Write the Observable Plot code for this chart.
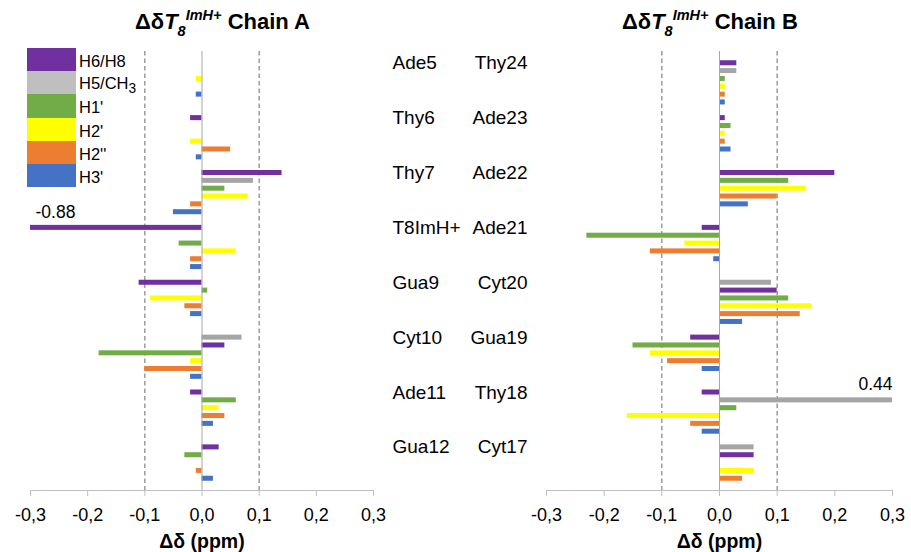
<!DOCTYPE html>
<html>
<head>
<meta charset="utf-8">
<script src="https://cdn.jsdelivr.net/npm/d3@7"></script>
<script src="https://cdn.jsdelivr.net/npm/@observablehq/plot@0.6"></script>
<style>
  body { margin: 0; background: #fff; font-family: "Liberation Sans", Arial, sans-serif; }
  #wrap { position: relative; width: 911px; height: 552px; overflow: hidden; background: #fff; }
  .plot { position: absolute; top: 0; }
  .title { position: absolute; top: 11px; font-size: 22px; font-weight: bold; line-height: 22px; white-space: nowrap; color: #000; }
  .title .it { font-style: italic; }
  .title .sub { position: relative; top: 7px; font-size: 14.5px; font-style: italic; }
  .title .sup { position: relative; top: -9.5px; font-size: 14.5px; font-style: italic; }
  #legend { position: absolute; left: 27px; top: 48px; }
  .lg-row { display: flex; align-items: center; height: 23.2px; }
  .lg-box { width: 49px; height: 23.2px; }
  .lg-label { font-size: 16.5px; margin-left: 3px; margin-top: 4px; color: #000; }
</style>
</head>
<body>
<div id="wrap"></div>
<script>
// ---------- data ----------
const series = ["H6/H8", "H5/CH3", "H1'", "H2'", "H2''", "H3'"];
const seriesLabels = ["H6/H8", "H5/CH<sub>3</sub>", "H1'", "H2'", "H2''", "H3'"];
const barColors = ["#7030A0", "#A5A5A5", "#70AD47", "#FFFF00", "#ED7D31", "#4472C4"];
const legendColors = ["#7030A0", "#BFBFBF", "#70AD47", "#FFFF00", "#ED7D31", "#4472C4"];

// row order of the protons within one residue (purine / thymine / cytosine)
const orderPurine = ["H6/H8", "H1'", "H2'", "H2''", "H3'"];
const orderThy = ["H6/H8", "H5/CH3", "H1'", "H2'", "H2''", "H3'"];
const orderCyt = ["H5/CH3", "H6/H8", "H1'", "H2'", "H2''", "H3'"];

const residuesA = ["Ade5", "Thy6", "Thy7", "T8ImH+", "Gua9", "Cyt10", "Ade11", "Gua12"];
const residuesB = ["Thy24", "Ade23", "Ade22", "Ade21", "Cyt20", "Gua19", "Thy18", "Cyt17"];
const typesA = ["R", "T", "T", "T", "R", "C", "R", "R"];
const typesB = ["T", "R", "R", "R", "C", "R", "T", "C"];

// chain A (ppm)
const A_H6H8 = [0, -0.02, 0.14, -0.88, -0.11, 0.04, -0.02, 0.03];
const A_H5CH3 = [null, 0, 0.09, 0, null, 0.07, null, null];
const A_H1p = [0, 0, 0.04, -0.04, 0.01, -0.18, 0.06, -0.03];
const A_H2p = [-0.01, -0.02, 0.08, 0.06, -0.09, -0.02, 0.03, 0];
const A_H2pp = [0, 0.05, -0.02, -0.02, -0.03, -0.10, 0.04, -0.01];
const A_H3p = [-0.01, -0.01, -0.05, -0.02, -0.02, -0.02, 0.02, 0.02];

// chain B (ppm)
const B_H6H8 = [0.03, 0.01, 0.20, -0.03, 0.10, -0.05, -0.03, 0.06];
const B_H5CH3 = [0.03, null, null, null, 0.09, null, 0.44, 0.06];
const B_H1p = [0.01, 0.02, 0.12, -0.23, 0.12, -0.15, 0.03, 0];
const B_H2p = [0.01, 0.01, 0.15, -0.06, 0.16, -0.12, -0.16, 0.06];
const B_H2pp = [0.01, 0.01, 0.10, -0.12, 0.14, -0.09, -0.05, 0.04];
const B_H3p = [0.01, 0.02, 0.05, -0.01, 0.04, -0.03, -0.03, 0];

const xTicks = [-0.3, -0.2, -0.1, 0.0, 0.1, 0.2, 0.3];
const xDomain = [-0.3, 0.3];
const guides = [-0.1, 0.1];
const axisTitle = "Δδ (ppm)";

// ---------- build tables ----------
const orders = {R: orderPurine, T: orderThy, C: orderCyt};
const slotsPerGroup = 7; // one blank slot + up to six protons
const yDomain = [];
for (let g = 0; g < residuesA.length; g++) for (let s = 0; s < slotsPerGroup; s++) yDomain.push(g + ":" + s);

function buildRows(types, cols) {
  const vals = {"H6/H8": cols[0], "H5/CH3": cols[1], "H1'": cols[2], "H2'": cols[3], "H2''": cols[4], "H3'": cols[5]};
  const rows = [];
  types.forEach((t, g) => {
    orders[t].forEach((s, r) => {
      const v = vals[s][g];
      if (v !== null && v !== undefined) rows.push({key: g + ":" + (r + 1), series: s, value: v});
    });
  });
  return rows;
}
const rowsA = buildRows(typesA, [A_H6H8, A_H5CH3, A_H1p, A_H2p, A_H2pp, A_H3p]);
const rowsB = buildRows(typesB, [B_H6H8, B_H5CH3, B_H1p, B_H2p, B_H2pp, B_H3p]);

const fmt = d => d.toFixed(1).replace(".", ",").replace(/^-0,0$/, "0,0");
const clampX = v => Math.max(xDomain[0], Math.min(xDomain[1], v));

function chart(rows, {width, marginLeft, marginRight, extra = []}) {
  const lowOut = rows.filter(d => d.value < xDomain[0]);
  const highOut = rows.filter(d => d.value > xDomain[1]);
  const p = Plot.plot({
    width, height: 552,
    marginLeft, marginRight, marginTop: 51, marginBottom: 62,
    x: {domain: xDomain},
    y: {domain: yDomain, paddingInner: 0.36, paddingOuter: 0.18, axis: null},
    color: {domain: series, range: barColors},
    style: {fontFamily: "'Liberation Sans', Arial, sans-serif", fontSize: "18px", color: "#000", background: "transparent", overflow: "visible"},
    marks: [
      Plot.ruleX(guides, {stroke: "#8C8C8C", strokeWidth: 1.3, strokeDasharray: "4.5,3"}),
      Plot.barX(rows, {x: "value", y: "key", fill: "series", clip: true}),
      Plot.ruleX([0], {stroke: "#A6A6A6", strokeWidth: 1}),
      Plot.axisX({ticks: xTicks, tickFormat: fmt, tickSize: 6, tickPadding: 12, stroke: "#BFBFBF", fontSize: 18, label: null}),
      Plot.text([axisTitle], {frameAnchor: "bottom", dy: 51, fontWeight: "bold", fontSize: 19.5, lineAnchor: "middle"}),
      Plot.text(lowOut, {x: d => clampX(d.value), y: "key", text: d => d.value.toFixed(2), textAnchor: "start", dx: 5, dy: -15, fontSize: 17.5}),
      Plot.text(highOut, {x: d => clampX(d.value), y: "key", text: d => d.value.toFixed(2), textAnchor: "end", dx: 0, dy: -16, fontSize: 17.5}),
      ...extra
    ]
  });
  // axis base line drawn through the x scale
  const x = p.scale("x");
  d3.select(p).append("line")
    .attr("x1", x.apply(xDomain[0])).attr("x2", x.apply(xDomain[1]))
    .attr("y1", 552 - 62 + 0.5).attr("y2", 552 - 62 + 0.5)
    .attr("stroke", "#BFBFBF").attr("stroke-width", 1);
  return p;
}

const wrap = document.getElementById("wrap");

const left = chart(rowsA, {width: 390, marginLeft: 30, marginRight: 17});
left.classList.add("plot"); left.style.left = "0px";
wrap.appendChild(left);

const labelMarks = [
  Plot.text(residuesA, {y: (d, i) => i + ":1", text: d => d, frameAnchor: "left", textAnchor: "start", dx: -154, fontSize: 19}),
  Plot.text(residuesB, {y: (d, i) => i + ":1", text: d => d, frameAnchor: "left", textAnchor: "end", dx: -19, fontSize: 19})
];
const right = chart(rowsB, {width: 531, marginLeft: 166, marginRight: 19, extra: labelMarks});
right.classList.add("plot"); right.style.left = "380px";
wrap.appendChild(right);

// titles
function addTitle(chain, leftPx) {
  const t = document.createElement("div");
  t.className = "title";
  t.style.left = leftPx + "px";
  t.innerHTML = 'Δδ<span class="it">T</span><span class="sub">8</span><span class="sup">ImH+</span> Chain ' + chain;
  wrap.appendChild(t);
}
addTitle("A", 135);
addTitle("B", 622);

// legend
const lg = document.createElement("div");
lg.id = "legend";
series.forEach((s, i) => {
  const row = document.createElement("div");
  row.className = "lg-row";
  row.innerHTML = '<div class="lg-box" style="background:' + legendColors[i] + '"></div><div class="lg-label">' + seriesLabels[i] + '</div>';
  lg.appendChild(row);
});
wrap.appendChild(lg);
</script>
</body>
</html>
